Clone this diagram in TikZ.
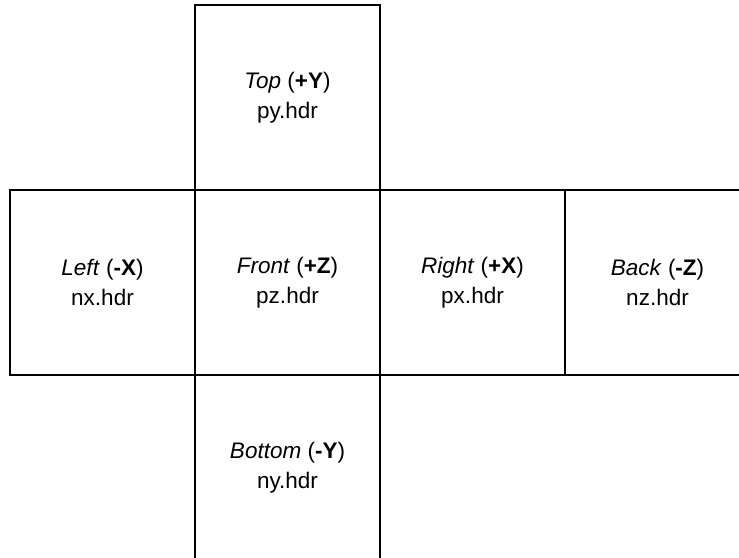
\documentclass[tikz,border=0pt]{standalone}
\usepackage{fontspec}
\setmainfont{Liberation Sans}
\usetikzlibrary{positioning}

\begin{document}
\begin{tikzpicture}[
    node distance=0pt and 0pt,
    face/.style={rectangle, draw=black, line width=2pt, outer sep=0pt,
                 minimum width=185pt, minimum height=185pt, align=center,
                 font=\fontsize{22.5}{30}\selectfont}
]
\useasboundingbox (0,0) rectangle (739pt,-557pt);

% Middle row of the cross
\node[face] (front) at (287.5pt,-282.5pt) {\textit{Front} (\textbf{+Z})\\pz.hdr};
\node[face, left=of front] (left) {\textit{Left} (\textbf{-X})\\nx.hdr};
\node[face, right=of front] (right) {\textit{Right} (\textbf{+X})\\px.hdr};
\node[face, right=of right] (back) {\textit{Back} (\textbf{-Z})\\nz.hdr};

% Top and bottom faces
\node[face, above=of front] (top) {\textit{Top} (\textbf{+Y})\\py.hdr};
\node[face, below=of front] (bottom) {\textit{Bottom} (\textbf{-Y})\\ny.hdr};

\end{tikzpicture}
\end{document}
